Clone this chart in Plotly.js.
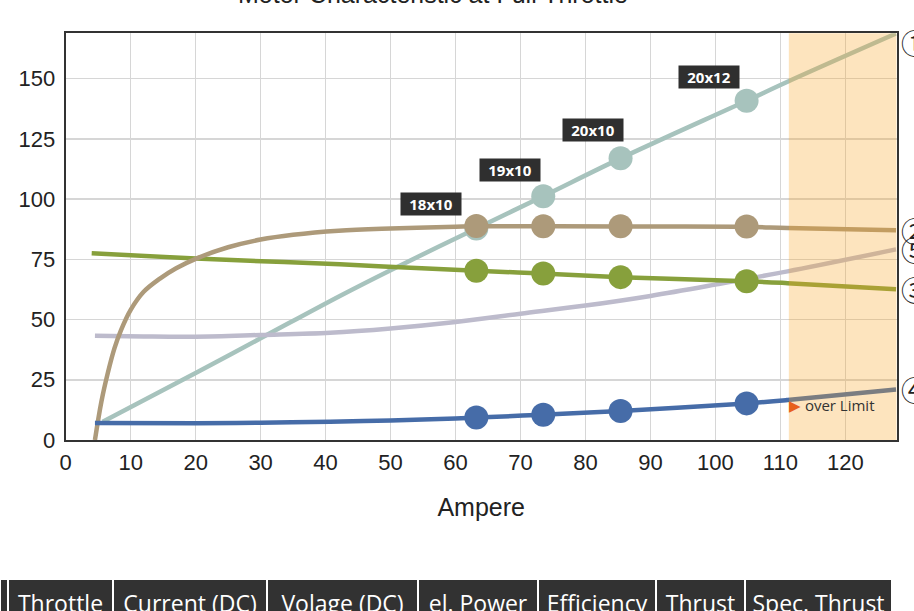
<!DOCTYPE html>
<html><head><meta charset="utf-8">
<script src="https://cdn.plot.ly/plotly-3.0.1.min.js"></script>
<style>html,body{margin:0;padding:0;background:#fff;overflow:hidden;} #chart{width:914px;height:611px;}</style>
</head><body><div id="chart"></div>
<script>
// ---- data ----
const chartTitle = 'Motor Characteristic at Full Throttle';
const xTitle = 'Ampere';
const overLimitAmp = 111.3;
const overLimitText = 'over Limit';
const xRange = [0, 127.9];
const yRange = [0, 168.8];

// ① teal
const s1Amp = [5.7, 20, 30, 42.2, 50, 63.2, 73.5, 85.4, 104.8, 111.1, 127.8];
const s1Val = [7.6, 27.8, 42.2, 59.8, 70.5, 87.8, 101.2, 116.9, 140.8, 148.7, 168.7];
// ② tan
const s2Amp = [4.5, 5.5, 6.5, 7.5, 8.5, 10, 12, 14.5, 17, 20, 25, 30, 35, 42, 50, 60, 63.2, 73.5, 85.4, 104.8, 111.1, 127.8];
const s2Val = [0, 16, 28, 38, 45.5, 54, 61.5, 67, 71.3, 75.2, 80, 83.2, 85.2, 86.9, 87.8, 88.5, 88.7, 88.7, 88.6, 88.5, 88.0, 87.1];
// ③ green
const s3Amp = [4.0, 20, 42.2, 63.2, 73.5, 85.4, 104.8, 111.1, 127.8];
const s3Val = [77.5, 75.3, 72.9, 70.2, 69.1, 67.6, 65.9, 65.1, 62.6];
// ④ blue
const s4Amp = [4.5, 20, 30, 40.7, 50, 60, 63.2, 73.5, 85.4, 104.8, 111.1, 127.8];
const s4Val = [7.1, 7.0, 7.2, 7.6, 8.1, 8.9, 9.3, 10.5, 12.0, 15.2, 16.6, 21.0];
// ⑤ lavender
const s5Amp = [4.5, 12, 20, 30, 40.7, 50, 60, 70, 80, 90, 100, 111.1, 127.8];
const s5Val = [43.3, 43.0, 42.9, 43.6, 44.5, 46.3, 49.0, 52.4, 55.8, 59.8, 64.5, 70.0, 79.1];

// measured points (propellers)
const markerAmp = [63.2, 73.5, 85.4, 104.8];
const s1Markers = [87.8, 101.2, 116.9, 140.8];
const s2Markers = [88.8, 88.7, 88.7, 88.6];
const s3Markers = [70.2, 69.1, 67.6, 65.9];
const s4Markers = [9.3, 10.5, 12.0, 15.2];
const propLabels = ['18x10', '19x10', '20x10', '20x12'];
const seriesTags = ['①', '②', '③', '④', '⑤'];
const tableHeader = ['', 'Throttle', 'Current (DC)', 'Volage (DC)', 'el. Power', 'Efficiency', 'Thrust', 'Spec. Thrust'];

// ---- styles ----
const W = 914, H = 611;
const plotL = 65.7, plotR = 896.7, plotT = 33.3, plotB = 440;
const colors = {s1: '#a7c3bd', s2: '#ad9a7a', s3: '#87a03c', s4: '#466ca8', s5: '#bdbbcc'};
const lw = 4.5, msize = 24;
const labelDx = [-45, -33, -28, -38];
const labelDy = [24.5, 26, 28, 24];
const colWidths = [8, 105, 154, 151, 120, 118, 89, 147];
const tableTop = 579, tableTextTop = 587, tableRight = 892;

function lineTrace(x, y, c) {
  return {type: 'scatter', mode: 'lines', x: x, y: y, hoverinfo: 'skip',
    line: {color: c, width: lw, shape: 'spline', smoothing: 1}, showlegend: false};
}
function markTrace(y, c) {
  return {type: 'scatter', mode: 'markers', x: markerAmp, y: y, hoverinfo: 'skip',
    marker: {color: c, size: msize, line: {width: 0}}, showlegend: false};
}
const nb = s => s.replace(/ /g, '\u00a0');

const traces = [
  lineTrace(s1Amp, s1Val, colors.s1), markTrace(s1Markers, colors.s1),
  lineTrace(s5Amp, s5Val, colors.s5),
  lineTrace(s3Amp, s3Val, colors.s3), markTrace(s3Markers, colors.s3),
  lineTrace(s2Amp, s2Val, colors.s2), markTrace(s2Markers, colors.s2),
  lineTrace(s4Amp, s4Val, colors.s4), markTrace(s4Markers, colors.s4),
  // header cells (fill and separators)
  {type: 'table', domain: {x: [0, tableRight / W], y: [0, (H - tableTop) / H]},
   columnwidth: colWidths,
   header: {values: tableHeader.map(() => ['']), height: 44,
     fill: {color: '#323232'}, line: {color: '#ffffff', width: 2},
     font: {family: 'Open Sans', size: 23, color: '#ffffff'}},
   cells: {values: tableHeader.map(() => []), height: 30}},
  // header texts
  {type: 'table', domain: {x: [0, tableRight / W], y: [0, (H - tableTextTop) / H]},
   columnwidth: colWidths,
   header: {values: tableHeader.map(h => [nb(h)]), align: 'center', height: 44,
     fill: {color: 'rgba(0,0,0,0)'}, line: {color: 'rgba(0,0,0,0)', width: 0},
     font: {family: 'Open Sans', size: 23, color: '#ffffff'}},
   cells: {values: tableHeader.map(() => []), height: 30}}
];

const ends = [s1Val, s2Val, s3Val, s4Val, s5Val].map(a => a[a.length - 1]);
const annotations = [];
annotations.push({xref: 'paper', yref: 'paper', x: 433 / W, y: (H + 5.7) / H, xanchor: 'center', yanchor: 'middle',
  text: chartTitle, showarrow: false, font: {family: 'Liberation Sans', size: 25, color: '#222'}});
propLabels.forEach((t, i) => annotations.push({xref: 'x', yref: 'y', x: markerAmp[i], y: s1Markers[i],
  xshift: labelDx[i], yshift: labelDy[i], text: t, showarrow: false, bgcolor: '#2f2f2f',
  width: 58, height: 20, borderpad: 1,
  font: {family: 'Open Sans', size: 15, color: '#ffffff', weight: 'bold'}}));
seriesTags.forEach((t, i) => annotations.push({xref: 'x domain', yref: 'y', x: 1, y: ends[i],
  xshift: 2, yshift: i === 0 ? -8.7 : 0, xanchor: 'left', yanchor: 'middle', text: t, showarrow: false,
  font: {family: 'Noto Sans CJK JP', size: 27, color: '#222'}}));
annotations.push({xref: 'x', yref: 'y', x: overLimitAmp, y: 14.1, xanchor: 'left', yanchor: 'middle', xshift: -2, yshift: 1.5,
  text: '<span style="color:#e8601c">▶</span> ' + overLimitText, showarrow: false,
  font: {family: 'Open Sans', size: 15, color: '#333'}});

const axisCommon = {showgrid: true, gridcolor: '#d6d6d6', gridwidth: 1.5, zeroline: false,
  showline: true, linecolor: '#333', linewidth: 2, mirror: true, ticks: '',
  tickfont: {family: 'Liberation Sans', size: 22, color: '#222'}, fixedrange: true};

const layout = {
  width: W, height: H, margin: {l: 0, r: 0, t: 0, b: 0},
  paper_bgcolor: '#fff', plot_bgcolor: '#fff', showlegend: false,
  xaxis: Object.assign({}, axisCommon, {domain: [plotL / W, plotR / W], range: xRange, dtick: 10, tick0: 0,
    ticklabelstandoff: 2,
    title: {text: xTitle, standoff: 24, font: {family: 'Liberation Sans', size: 25, color: '#222'}}}),
  yaxis: Object.assign({}, axisCommon, {domain: [(H - plotB) / H, (H - plotT) / H], range: yRange, dtick: 25, tick0: 0,
    ticklabelstandoff: 4}),
  shapes: [{type: 'rect', xref: 'x', yref: 'y domain', x0: overLimitAmp, x1: xRange[1], y0: 0, y1: 1,
    fillcolor: 'rgba(250,165,40,0.3)', line: {width: 0}, layer: 'above'}],
  annotations: annotations
};
Plotly.newPlot('chart', traces, layout, {staticPlot: true, displayModeBar: false});
</script></body></html>
